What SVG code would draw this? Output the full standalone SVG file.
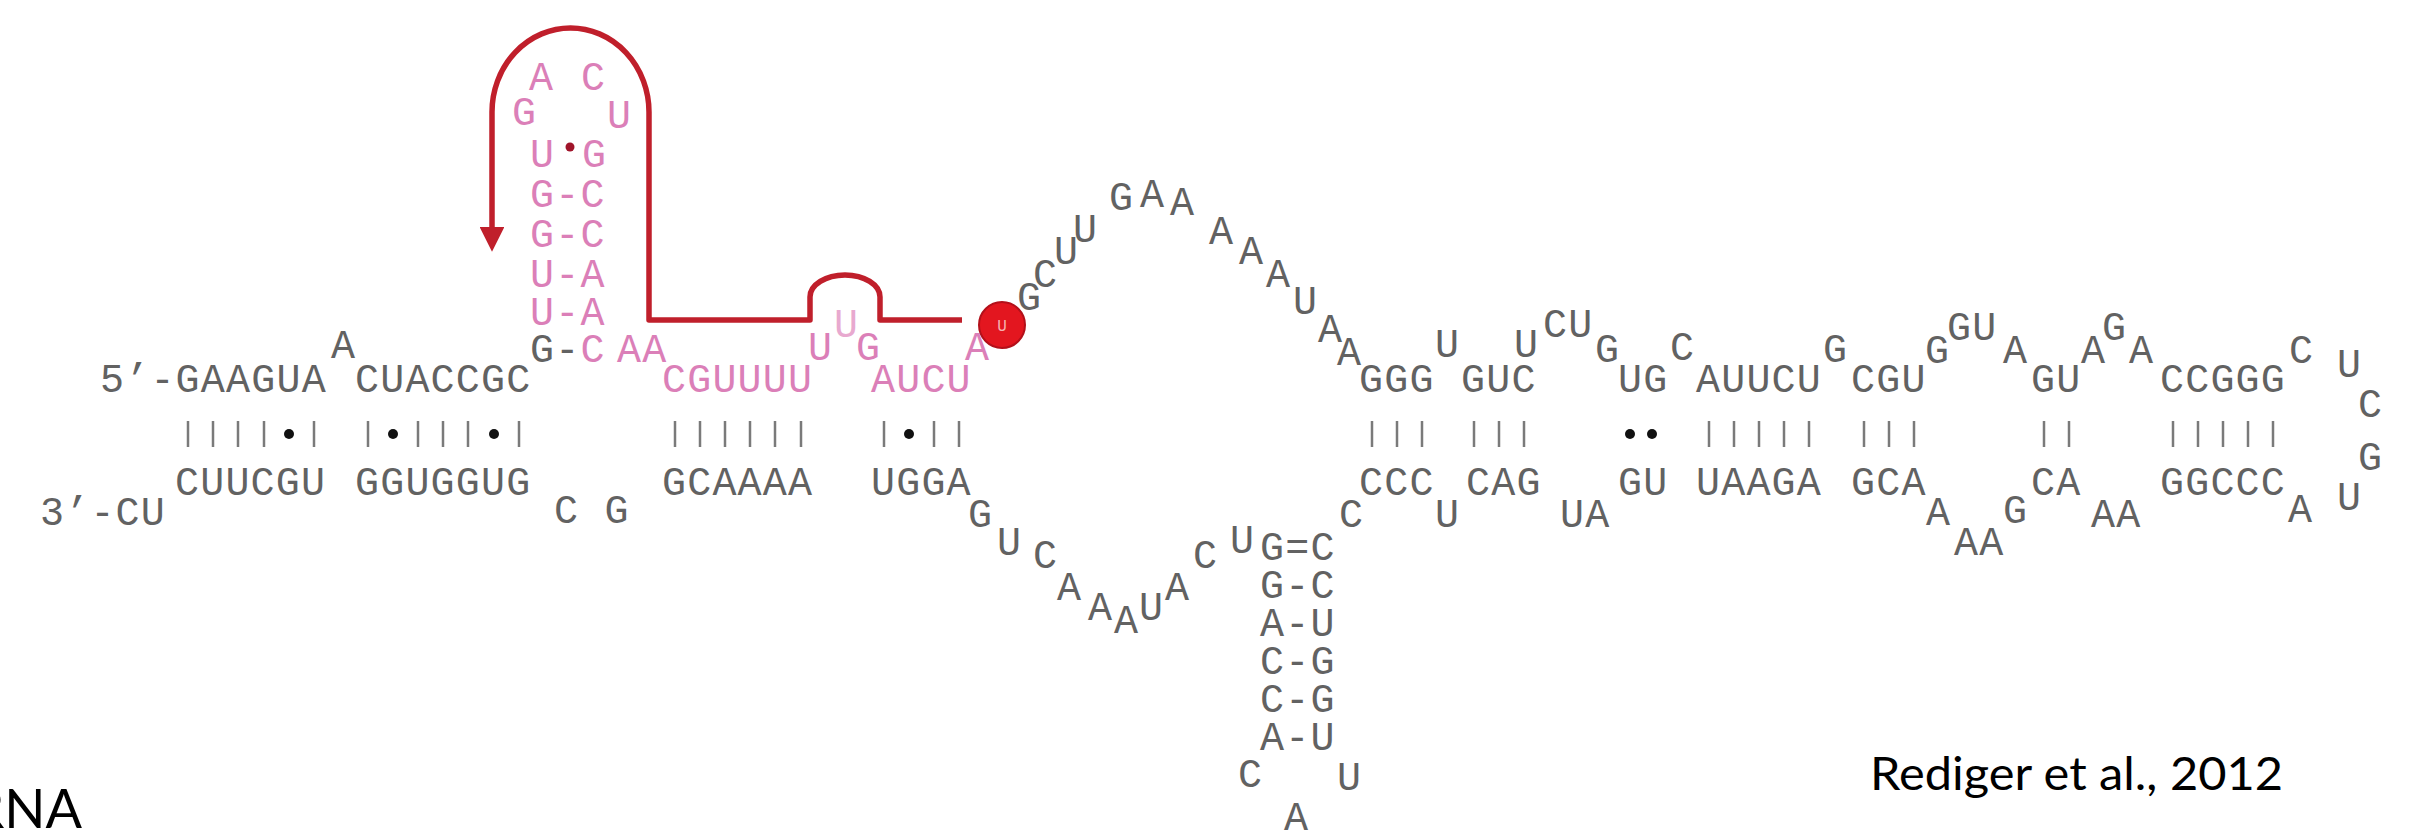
<svg xmlns="http://www.w3.org/2000/svg" width="2435" height="836" viewBox="0 0 2435 836">
<defs>
<style>
.n{font-family:"Liberation Mono","DejaVu Sans Mono",monospace;font-size:40px;letter-spacing:1.2px;fill:#626262}
.p{fill:#db7fb8}
.pl{fill:#e8a9cf}
.bar{stroke:#7a7a7a;stroke-width:2.5}
.dot{fill:#111}
.lbl{font-family:Lato,"Open Sans",sans-serif;fill:#000}
.red{fill:none;stroke:#c01f2b;stroke-width:5.5;stroke-linejoin:round}
</style>
<marker id="ah" viewBox="0 0 10 10" refX="2" refY="5" markerWidth="4.5" markerHeight="4.5" orient="auto" markerUnits="strokeWidth">
<path d="M0,0 L10,5 L0,10 Z" fill="#c01f2b"/>
</marker>
</defs>
<rect width="2435" height="836" fill="#fff"/>

<g id="helix-left">
<text class="n" x="100" y="392">5’-GAAGUA</text>
<text class="n" x="331" y="358">A</text>
<text class="n" x="355" y="392">CUACCGC</text>
<text class="n" x="175" y="495">CUUCGU</text>
<text class="n" x="355" y="495">GGUGGUG</text>
<text class="n" x="40" y="525">3’-CU</text>
<text class="n" x="554" y="523">C G</text>
<g>
<line class="bar" x1="188" y1="421" x2="188" y2="447"/>
<line class="bar" x1="213" y1="421" x2="213" y2="447"/>
<line class="bar" x1="238" y1="421" x2="238" y2="447"/>
<line class="bar" x1="264" y1="421" x2="264" y2="447"/>
<circle class="dot" cx="289" cy="434" r="5"/>
<line class="bar" x1="314" y1="421" x2="314" y2="447"/>
<line class="bar" x1="368" y1="421" x2="368" y2="447"/>
<circle class="dot" cx="393" cy="434" r="5"/>
<line class="bar" x1="418" y1="421" x2="418" y2="447"/>
<line class="bar" x1="443" y1="421" x2="443" y2="447"/>
<line class="bar" x1="468" y1="421" x2="468" y2="447"/>
<circle class="dot" cx="494" cy="434" r="5"/>
<line class="bar" x1="519" y1="421" x2="519" y2="447"/>
</g>
</g>

<g id="hairpin">
<text class="n p" x="529" y="90">A</text>
<text class="n p" x="581" y="90">C</text>
<text class="n p" x="512" y="125">G</text>
<text class="n p" x="607" y="128">U</text>
<text class="n p" x="530" y="167">U</text>
<text class="n p" x="582" y="167">G</text>
<circle cx="570" cy="147" r="4.5" fill="#a0142a"/>
<text class="n p" x="530" y="207">G-C</text>
<text class="n p" x="530" y="247">G-C</text>
<text class="n p" x="530" y="287">U-A</text>
<text class="n p" x="530" y="325">U-A</text>
<text class="n" x="530" y="362">G-<tspan class="p">C</tspan></text>
<text class="n p" x="617" y="362">AA</text>
</g>

<g id="helix-middle">
<text class="n p" x="662" y="392">CGUUUU</text>
<text class="n p" x="871" y="392">AUCU</text>
<text class="n p" x="808" y="360">U</text>
<text class="n pl" x="834" y="337">U</text>
<text class="n p" x="856" y="360">G</text>
<text class="n p" x="965" y="360">A</text>
<text class="n" x="662" y="495">GCAAAA</text>
<text class="n" x="871" y="495">UGGA</text>
<g>
<line class="bar" x1="675" y1="421" x2="675" y2="447"/>
<line class="bar" x1="700" y1="421" x2="700" y2="447"/>
<line class="bar" x1="725" y1="421" x2="725" y2="447"/>
<line class="bar" x1="750" y1="421" x2="750" y2="447"/>
<line class="bar" x1="775" y1="421" x2="775" y2="447"/>
<line class="bar" x1="801" y1="421" x2="801" y2="447"/>
<line class="bar" x1="884" y1="421" x2="884" y2="447"/>
<circle class="dot" cx="909" cy="434" r="5"/>
<line class="bar" x1="934" y1="421" x2="934" y2="447"/>
<line class="bar" x1="959" y1="421" x2="959" y2="447"/>
</g>
</g>

<g id="loop-top">
<text class="n" x="1017" y="310">G</text>
<text class="n" x="1033" y="287">C</text>
<text class="n" x="1054" y="264">U</text>
<text class="n" x="1073" y="242">U</text>
<text class="n" x="1109" y="210">G</text>
<text class="n" x="1140" y="207">A</text>
<text class="n" x="1170" y="215">A</text>
<text class="n" x="1209" y="244">A</text>
<text class="n" x="1239" y="264">A</text>
<text class="n" x="1266" y="287">A</text>
<text class="n" x="1293" y="314">U</text>
<text class="n" x="1318" y="342">A</text>
<text class="n" x="1337" y="365">A</text>
</g>

<g id="loop-bottom">
<text class="n" x="968" y="527">G</text>
<text class="n" x="997" y="555">U</text>
<text class="n" x="1033" y="568">C</text>
<text class="n" x="1057" y="600">A</text>
<text class="n" x="1088" y="620">A</text>
<text class="n" x="1114" y="633">A</text>
<text class="n" x="1139" y="620">U</text>
<text class="n" x="1165" y="600">A</text>
<text class="n" x="1193" y="568">C</text>
<text class="n" x="1230" y="553">U</text>
</g>

<g id="stem-down">
<text class="n" x="1260" y="560">G=C</text>
<text class="n" x="1260" y="598">G-C</text>
<text class="n" x="1260" y="636">A-U</text>
<text class="n" x="1260" y="674">C-G</text>
<text class="n" x="1260" y="712">C-G</text>
<text class="n" x="1260" y="750">A-U</text>
<text class="n" x="1238" y="787">C</text>
<text class="n" x="1337" y="790">U</text>
<text class="n" x="1284" y="830">A</text>
</g>

<g id="helix-right">
<text class="n" x="1359" y="392">GGG</text>
<text class="n" x="1435" y="357">U</text>
<text class="n" x="1461" y="392">GUC</text>
<text class="n" x="1514" y="357">U</text>
<text class="n" x="1543" y="337">CU</text>
<text class="n" x="1595" y="362">G</text>
<text class="n" x="1618" y="392">UG</text>
<text class="n" x="1670" y="360">C</text>
<text class="n" x="1696" y="392">AUUCU</text>
<text class="n" x="1823" y="362">G</text>
<text class="n" x="1851" y="392">CGU</text>
<text class="n" x="1925" y="363">G</text>
<text class="n" x="1947" y="340">GU</text>
<text class="n" x="2003" y="363">A</text>
<text class="n" x="2031" y="392">GU</text>
<text class="n" x="2081" y="363">A</text>
<text class="n" x="2102" y="340">G</text>
<text class="n" x="2129" y="363">A</text>
<text class="n" x="2160" y="392">CCGGG</text>
<text class="n" x="2289" y="363">C</text>
<text class="n" x="2337" y="377">U</text>
<text class="n" x="2358" y="417">C</text>
<text class="n" x="2358" y="470">G</text>
<text class="n" x="2337" y="510">U</text>
<text class="n" x="2288" y="522">A</text>
<text class="n" x="2160" y="495">GGCCC</text>
<text class="n" x="2091" y="527">AA</text>
<text class="n" x="2031" y="495">CA</text>
<text class="n" x="2003" y="523">G</text>
<text class="n" x="1954" y="555">AA</text>
<text class="n" x="1926" y="525">A</text>
<text class="n" x="1851" y="495">GCA</text>
<text class="n" x="1696" y="495">UAAGA</text>
<text class="n" x="1618" y="495">GU</text>
<text class="n" x="1560" y="527">UA</text>
<text class="n" x="1466" y="495">CAG</text>
<text class="n" x="1435" y="527">U</text>
<text class="n" x="1359" y="495">CCC</text>
<text class="n" x="1339" y="527">C</text>
<g>
<line class="bar" x1="1372" y1="421" x2="1372" y2="447"/>
<line class="bar" x1="1397" y1="421" x2="1397" y2="447"/>
<line class="bar" x1="1422" y1="421" x2="1422" y2="447"/>
<line class="bar" x1="1474" y1="421" x2="1474" y2="447"/>
<line class="bar" x1="1499" y1="421" x2="1499" y2="447"/>
<line class="bar" x1="1524" y1="421" x2="1524" y2="447"/>
<circle class="dot" cx="1630" cy="434" r="5"/>
<circle class="dot" cx="1652" cy="434" r="5"/>
<line class="bar" x1="1709" y1="421" x2="1709" y2="447"/>
<line class="bar" x1="1734" y1="421" x2="1734" y2="447"/>
<line class="bar" x1="1759" y1="421" x2="1759" y2="447"/>
<line class="bar" x1="1784" y1="421" x2="1784" y2="447"/>
<line class="bar" x1="1809" y1="421" x2="1809" y2="447"/>
<line class="bar" x1="1864" y1="421" x2="1864" y2="447"/>
<line class="bar" x1="1889" y1="421" x2="1889" y2="447"/>
<line class="bar" x1="1914" y1="421" x2="1914" y2="447"/>
<line class="bar" x1="2044" y1="421" x2="2044" y2="447"/>
<line class="bar" x1="2069" y1="421" x2="2069" y2="447"/>
<line class="bar" x1="2173" y1="421" x2="2173" y2="447"/>
<line class="bar" x1="2198" y1="421" x2="2198" y2="447"/>
<line class="bar" x1="2223" y1="421" x2="2223" y2="447"/>
<line class="bar" x1="2248" y1="421" x2="2248" y2="447"/>
<line class="bar" x1="2273" y1="421" x2="2273" y2="447"/>
</g>
</g>

<g id="connectors">
<path class="red" d="M962,320 H880 V297 A35,22 0 0 0 810,297 V320 H649 V112 A78.5,84 0 0 0 492,112 V232" marker-end="url(#ah)"/>
</g>

<g id="marked-nucleotide">
<circle cx="1002" cy="325" r="23" fill="#e3161f" stroke="#b3101a" stroke-width="2"/>
<text x="1002" y="331" text-anchor="middle" font-family="Liberation Mono,monospace" font-size="16" fill="#f6b0b0">U</text>
</g>

<text class="lbl" x="1870" y="790" font-size="46" textLength="413" lengthAdjust="spacingAndGlyphs">Rediger et al., 2012</text>
<text class="lbl" x="82" y="828" font-size="54" text-anchor="end">RNA</text>
</svg>
